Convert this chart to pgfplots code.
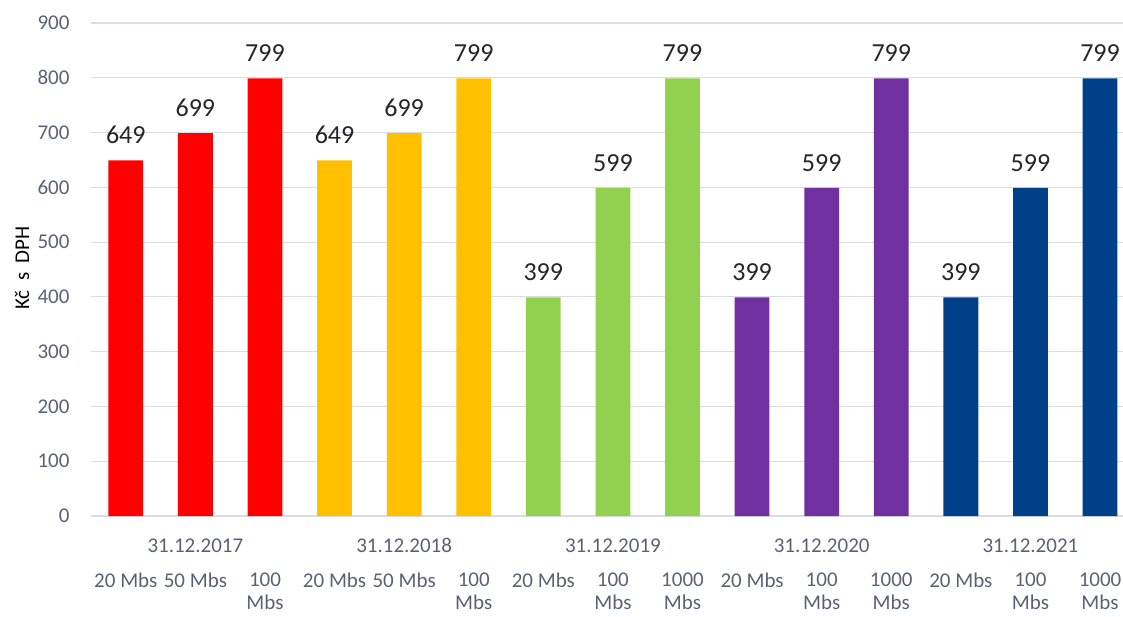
\documentclass[border=0pt]{standalone}
\usepackage{pgfplots}
\pgfplotsset{compat=1.18}
\usepackage{fontspec}
\setmainfont{Carlito}
\definecolor{c17}{RGB}{255,0,0}
\definecolor{c18}{RGB}{255,192,0}
\definecolor{c19}{RGB}{146,208,80}
\definecolor{c20}{RGB}{112,48,160}
\definecolor{c21}{RGB}{0,64,136}
\definecolor{tickcol}{RGB}{89,98,117}
\definecolor{gridcol}{RGB}{217,221,227}
\definecolor{lblcol}{RGB}{38,38,38}

\begin{document}
\begin{tikzpicture}[x=1pt,y=1pt,
  grplbl/.style={anchor=base, text=tickcol, font=\fontsize{21}{25}\selectfont, yshift=-36pt}]
\useasboundingbox (0,0) rectangle (1123,616);
\begin{axis}[
  at={(91pt,100pt)}, anchor=south west, scale only axis,
  width=1032pt, height=493pt,
  xmin=-0.5, xmax=14.33, ymin=0, ymax=900,
  ytick={0,100,...,900},
  xtick={0,...,14},
  xticklabels={20 Mbs,50 Mbs,100\\Mbs,20 Mbs,50 Mbs,100\\Mbs,20 Mbs,100\\Mbs,1000\\Mbs,20 Mbs,100\\Mbs,1000\\Mbs,20 Mbs,100\\Mbs,1000\\Mbs},
  axis line style={draw=none},
  major tick length=0pt,
  ymajorgrids, grid style={gridcol, line width=1.2pt},
  tick label style={font=\fontsize{21}{25}\selectfont, text=tickcol},
  yticklabel style={xshift=-18pt},
  xticklabel style={align=center, anchor=north, yshift=-53pt, font=\fontsize{21}{23.5}\selectfont},
  /pgf/number format/assume math mode=true,
  ybar, bar width=0.5, bar shift=0pt,
  nodes near coords,
  every node near coord/.append style={font=\fontsize{26}{30}\selectfont, text=lblcol, anchor=south, yshift=13pt},
  clip=false,
]
\addplot[fill=c17, draw=none] coordinates {(0,649) (1,699) (2,799)};
\addplot[fill=c18, draw=none] coordinates {(3,649) (4,699) (5,799)};
\addplot[fill=c19, draw=none] coordinates {(6,399) (7,599) (8,799)};
\addplot[fill=c20, draw=none] coordinates {(9,399) (10,599) (11,799)};
\addplot[fill=c21, draw=none] coordinates {(12,399) (13,599) (14,799)};
\node[grplbl] at (axis cs:1,0) {31.12.2017};
\node[grplbl] at (axis cs:4,0) {31.12.2018};
\node[grplbl] at (axis cs:7,0) {31.12.2019};
\node[grplbl] at (axis cs:10,0) {31.12.2020};
\node[grplbl] at (axis cs:13,0) {31.12.2021};
\end{axis}
\node[rotate=90, font=\fontsize{21}{25}\selectfont, text=black] at (22,348) {Kč\ \ s\ \ DPH};
\end{tikzpicture}
\end{document}
